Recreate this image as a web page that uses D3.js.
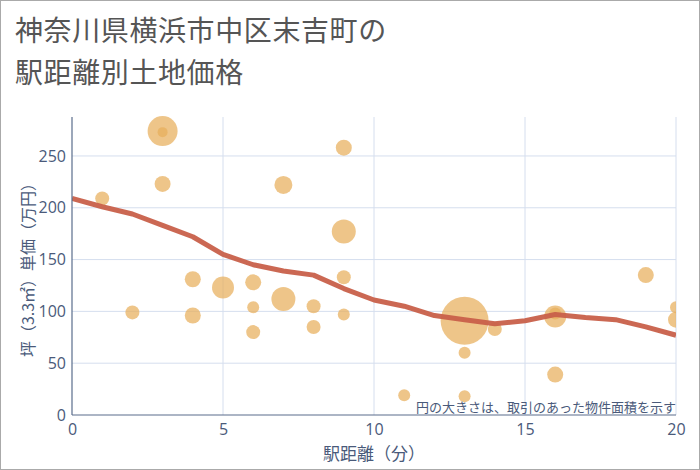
<!DOCTYPE html>
<html><head><meta charset="utf-8">
<script src="https://cdn.jsdelivr.net/npm/d3@7"></script>
<style>
body{margin:0;background:#fff;}
svg{display:block;font-family:"Noto Sans CJK JP","Noto Sans",sans-serif;}
</style></head>
<body>
<svg id="c" width="700" height="470"></svg>
<script>
// bubble data: station distance (min), price (万円/坪), relative size (radius px)
const bubbleX = [3, 3, 1, 3, 2, 4, 4, 5, 6, 6, 6, 7, 7, 8, 8, 9, 9, 9, 9, 11, 13, 13, 13, 14, 16, 16, 16, 19, 20, 20];
const bubbleY = [274, 273, 209, 223, 99, 131, 96, 123, 128, 104, 80, 222, 112, 105, 85, 258, 177, 133, 97, 19, 91, 60, 18, 83, 95, 98, 39, 135, 104, 92];
const bubbleR = [15, 5, 7, 8, 7, 8, 8, 11, 8, 6, 7, 9, 12, 7, 7, 8, 12, 7, 6, 6, 24, 6, 6, 7, 11, 6, 8, 8, 6, 8];
// average line
const lineX = [0,1,2,3,4,5,6,7,8,9,10,11,12,13,14,15,16,17,18,19,20];
const lineY = [209,201,194,183,172,155,145,139,135,122,111,105,96,92,88,91,97,94,92,85,77];
const xTicks = [0,5,10,15,20];
const yTicks = [0,50,100,150,200,250];

const svg = d3.select("#c");
const W=700,H=470;
const L=72,R=676,T=117,B=415;
const x = d3.scaleLinear().domain([0,20]).range([L,R]);
const y = d3.scaleLinear().domain([0,287.6]).range([B,T]);
const axisColor="#4a5a7a";

svg.append("rect").attr("x",0.5).attr("y",0.5).attr("width",W-1).attr("height",H-1)
  .attr("fill","#fff").attr("stroke","#aaa").attr("stroke-width",1);

// title
const title = svg.append("text").attr("fill","#555").attr("font-size",28).attr("letter-spacing",0.6);
title.append("tspan").attr("x",15).attr("y",41).text("神奈川県横浜市中区末吉町の");
title.append("tspan").attr("x",15).attr("y",83).text("駅距離別土地価格");

// grid
const g = svg.append("g");
g.selectAll(".hg").data(yTicks.filter(d=>d>0)).join("line")
  .attr("x1",L).attr("x2",R).attr("y1",d=>y(d)).attr("y2",d=>y(d))
  .attr("stroke","#d5deee").attr("stroke-width",1);
g.selectAll(".vg").data(xTicks.filter(d=>d>0)).join("line")
  .attr("y1",T).attr("y2",B).attr("x1",d=>x(d)).attr("x2",d=>x(d))
  .attr("stroke","#d5deee").attr("stroke-width",1);

// clip
svg.append("defs").append("clipPath").attr("id","clip").append("rect")
  .attr("x",L).attr("y",T-30).attr("width",R-L).attr("height",B-T+30);

const plot = svg.append("g").attr("clip-path","url(#clip)");
const idx = d3.range(bubbleX.length).sort((a,b)=>bubbleR[b]-bubbleR[a]);
plot.selectAll("circle").data(idx).join("circle")
  .attr("cx",i=>x(bubbleX[i])).attr("cy",i=>y(bubbleY[i])).attr("r",i=>bubbleR[i])
  .attr("fill","#e8ae5c").attr("fill-opacity",0.72);

const line = d3.line().x((d,i)=>x(lineX[i])).y(d=>y(d));
plot.append("path").datum(lineY).attr("d",line).attr("fill","none")
  .attr("stroke","#c8604a").attr("stroke-width",5).attr("stroke-linejoin","round").attr("stroke-opacity",0.95);

// axes
const xa = svg.append("g").attr("transform",`translate(0,${B})`)
  .call(d3.axisBottom(x).tickValues(xTicks).tickSize(0).tickPadding(9));
const ya = svg.append("g").attr("transform",`translate(${L},0)`)
  .call(d3.axisLeft(y).tickValues(yTicks).tickSize(0).tickPadding(6));
[xa,ya].forEach(a=>{
  a.select(".domain").attr("stroke","#5a6d8c").attr("stroke-width",1.2);
  a.selectAll("text").attr("fill",axisColor).attr("font-size",16)
    .attr("font-family","'Open Sans','Noto Sans',sans-serif");
});
ya.select(".domain").attr("d",`M0,${T}V${B}`);
xa.select(".domain").attr("d",`M${L},0H${R}`);

// labels
svg.append("text").attr("x",(L+R)/2).attr("y",460).attr("text-anchor","middle")
  .attr("fill",axisColor).attr("font-size",17).text("駅距離（分）");
svg.append("text").attr("transform",`translate(34,${(T+B)/2}) rotate(-90)`)
  .attr("text-anchor","middle").attr("fill",axisColor).attr("font-size",16)
  .text("坪（3.3㎡）単価（万円）");
svg.append("text").attr("x",R).attr("y",412).attr("text-anchor","end")
  .attr("fill",axisColor).attr("font-size",13).text("円の大きさは、取引のあった物件面積を示す");
</script>
</body></html>
